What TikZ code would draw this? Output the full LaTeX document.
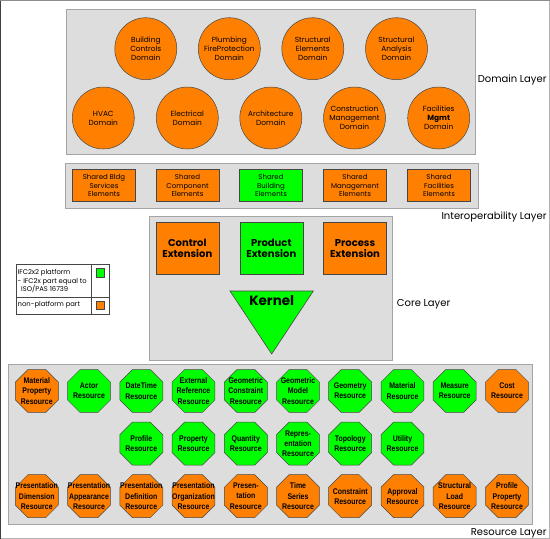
\documentclass[tikz,border=0pt]{standalone}
\usepackage{fontspec}
\setmainfont{Poppins}
\newfontfamily\resfont[FakeStretch=0.85]{Liberation Sans}
\usetikzlibrary{shapes.geometric}
\definecolor{ifcorange}{RGB}{255,128,0}
\definecolor{ifcgreen}{RGB}{0,255,0}
\definecolor{panelgray}{RGB}{221,221,221}
\definecolor{panelline}{RGB}{165,165,165}
\definecolor{shapeline}{RGB}{70,70,70}
\newcommand\octnode[5]{\node[ifcoct, fill=#4, label={[ifcocttext]center:{#5}}] (#1) at (#2,#3) {};}
\begin{document}
\begin{tikzpicture}[x=1pt,y=-1pt,
  ifcpanel/.style={fill=panelgray, draw=panelline, line width=1pt},
  ifcdomain/.style={circle, draw=shapeline, line width=0.5pt, minimum size=62pt, inner sep=0pt, align=center, fill=ifcorange, font=\fontsize{7.4}{8.9}\selectfont},
  ifcinterop/.style={rectangle, draw=shapeline, line width=0.6pt, minimum width=63pt, minimum height=32pt, inner sep=0pt, align=center, font=\fontsize{7}{8.7}\selectfont},
  ifccoreext/.style={rectangle, draw=shapeline, line width=0.6pt, minimum width=63pt, minimum height=52pt, inner sep=0pt, align=center, font=\bfseries\fontsize{10}{11.5}\selectfont},
  ifcoct/.style={regular polygon, regular polygon sides=8, minimum size=46.5pt, inner sep=0pt, draw=shapeline, line width=0.5pt},
  ifcocttext/.style={align=center, inner sep=0pt, font=\resfont\bfseries\fontsize{8.2}{10.2}\selectfont},
  ifclayerlabel/.style={anchor=east, inner sep=0pt, font=\fontsize{10}{12}\selectfont},
  ifclegendtext/.style={anchor=west, inner sep=0pt, align=left, font=\fontsize{6.8}{8.5}\selectfont},
  ifcswatch/.style={rectangle, draw=shapeline, line width=0.5pt, minimum size=8.5pt, inner sep=0pt}]
\useasboundingbox (0,0) rectangle (550,539);
% outer frame
\draw[black!45, line width=1pt] (0.5,538.5) -- (0.5,0.5) -- (549.5,0.5);
\draw[black!30, line width=1pt] (549.5,0.5) -- (549.5,538.5) -- (0.5,538.5);
\draw[black!75, line width=1.2pt] (0.6,0.5) -- (0.6,538.5);

% ---------- Domain layer ----------
\draw[ifcpanel] (66,9) rectangle (475,154);
\node[ifcdomain] (d1) at (145.8,48.7) {Building\\Controls\\Domain};
\node[ifcdomain] (d2) at (229.3,48.7) {Plumbing\\FireProtection\\Domain};
\node[ifcdomain] (d3) at (312.8,48.7) {Structural\\Elements\\Domain};
\node[ifcdomain] (d4) at (396.5,48.7) {Structural\\Analysis\\Domain};
\node[ifcdomain] (d5) at (103.3,118) {HVAC\\Domain};
\node[ifcdomain] (d6) at (187.3,118) {Electrical\\Domain};
\node[ifcdomain] (d7) at (270.8,118) {Architecture\\Domain};
\node[ifcdomain] (d8) at (354.5,118) {Construction\\Management\\Domain};
\node[ifcdomain] (d9) at (438.7,118) {Facilities\\\textbf{Mgmt}\\Domain};
\node[ifclayerlabel] (ldomain) at (546.7,80) {Domain Layer};

% ---------- Interoperability layer ----------
\draw[ifcpanel] (65,163.3) rectangle (478,208.3);
\node[ifcinterop, fill=ifcorange] (i1) at (104,185.5) {Shared Bldg\\Services\\Elements};
\node[ifcinterop, fill=ifcorange] (i2) at (187.5,185.5) {Shared\\Component\\Elements};
\node[ifcinterop, fill=ifcgreen] (i3) at (271,185.5) {Shared\\Building\\Elements};
\node[ifcinterop, fill=ifcorange] (i4) at (355,185.5) {Shared\\Management\\Elements};
\node[ifcinterop, fill=ifcorange] (i5) at (439,185.5) {Shared\\Facilities\\Elements};
\node[ifclayerlabel] (linterop) at (546.7,216.5) {Interoperability Layer};

% ---------- Core layer ----------
\draw[ifcpanel] (149.3,216) rectangle (392.7,360);
\node[ifccoreext, fill=ifcorange] (c1) at (187.3,248.3) {Control\\Extension};
\node[ifccoreext, fill=ifcgreen] (c2) at (271.3,248.3) {Product\\Extension};
\node[ifccoreext, fill=ifcorange] (c3) at (355,248.3) {Process\\Extension};
\coordinate (k1) at (230,291);
\coordinate (k2) at (313.3,291);
\coordinate (k3) at (271.7,354);
\filldraw[fill=ifcgreen, draw=shapeline, line width=0.6pt] (k1) -- (k2) -- (k3) -- cycle;
\node[font=\bfseries\fontsize{13.5}{15}\selectfont, inner sep=0pt] (kernel) at (271.7,300.5) {Kernel};
\node[ifclayerlabel, anchor=west] (lcore) at (396.7,304.3) {Core Layer};

% ---------- Legend ----------
\draw[fill=white, draw=shapeline, line width=0.6pt] (16.3,264.3) rectangle (109,314.3);
\draw[shapeline, line width=0.6pt] (91.7,264.3) -- (91.7,314.3);
\draw[shapeline, line width=0.6pt] (16.3,297.3) -- (109,297.3);
\node[ifclegendtext] (lg1) at (17.5,281) {IFC2x2 platform\\- IFC2x part equal to\\\hspace*{3.5pt}ISO/PAS 16739};
\node[ifclegendtext] (lg2) at (17.5,305) {non-platform part};
\node[ifcswatch, fill=ifcgreen] (sw1) at (100.2,272.5) {};
\node[ifcswatch, fill=ifcorange] (sw2) at (100.2,305.3) {};

% ---------- Resource layer ----------
\draw[ifcpanel] (8.8,364.2) rectangle (532.6,524.7);
\octnode{r1}{36.8}{391}{ifcorange}{Material\\Property\\Resource}
\octnode{r2}{89.0}{391}{ifcgreen}{Actor\\Resource}
\octnode{r3}{141.3}{391}{ifcgreen}{DateTime\\Resource}
\octnode{r4}{193.5}{391}{ifcgreen}{External\\Reference\\Resource}
\octnode{r5}{245.8}{391}{ifcgreen}{Geometric\\Constraint\\Resource}
\octnode{r6}{298.0}{391}{ifcgreen}{Geometric\\Model\\Resource}
\octnode{r7}{350.2}{391}{ifcgreen}{Geometry\\Resource}
\octnode{r8}{402.5}{391}{ifcgreen}{Material\\Resource}
\octnode{r9}{454.7}{391}{ifcgreen}{Measure\\Resource}
\octnode{r10}{507.0}{391}{ifcorange}{Cost\\Resource}
\octnode{r11}{141.3}{443.6}{ifcgreen}{Profile\\Resource}
\octnode{r12}{193.5}{443.6}{ifcgreen}{Property\\Resource}
\octnode{r13}{245.8}{443.6}{ifcgreen}{Quantity\\Resource}
\octnode{r14}{298.0}{443.6}{ifcgreen}{Repres-\\entation\\Resource}
\octnode{r15}{350.2}{443.6}{ifcgreen}{Topology\\Resource}
\octnode{r16}{402.5}{443.6}{ifcgreen}{Utility\\Resource}
\octnode{r17}{36.8}{496.2}{ifcorange}{Presentation\\Dimension\\Resource}
\octnode{r18}{89.0}{496.2}{ifcorange}{Presentation\\Appearance\\Resource}
\octnode{r19}{141.3}{496.2}{ifcorange}{Presentation\\Definition\\Resource}
\octnode{r20}{193.5}{496.2}{ifcorange}{Presentation\\Organization\\Resource}
\octnode{r21}{245.8}{496.2}{ifcorange}{Presen-\\tation\\Resource}
\octnode{r22}{298.0}{496.2}{ifcorange}{Time\\Series\\Resource}
\octnode{r23}{350.2}{496.2}{ifcorange}{Constraint\\Resource}
\octnode{r24}{402.5}{496.2}{ifcorange}{Approval\\Resource}
\octnode{r25}{454.7}{496.2}{ifcorange}{Structural\\Load\\Resource}
\octnode{r26}{507.0}{496.2}{ifcorange}{Profile\\Property\\Resource}
\node[ifclayerlabel] (lresource) at (546.7,533.3) {Resource Layer};
\end{tikzpicture}
\end{document}
